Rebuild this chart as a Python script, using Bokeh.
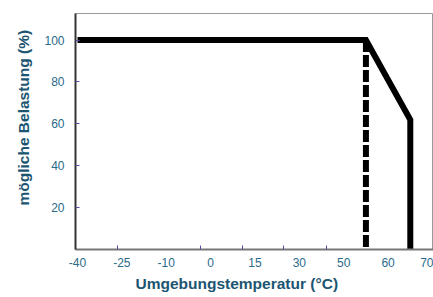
import numpy as np
from bokeh.plotting import figure
from bokeh.models import FixedTicker, Range1d, Title
from bokeh.embed import file_html
from bokeh.resources import INLINE

# tick labels along the temperature axis (evenly spaced in the picture)
x_tick_labels = [-40, -25, -10, 0, 15, 30, 50, 60, 70]
y_ticks = [20, 40, 60, 80, 100]

# derating curve (temperature °C, possible load %)
curve_temp = [-40, 55, 65, 65]
curve_load = [100, 100, 62, 0]

# dashed limit line
limit_temp = [55, 55]
limit_load = [100, 0]

tick_pos = list(range(len(x_tick_labels)))


def to_pos(t):
    return np.interp(t, x_tick_labels, tick_pos)


TICK_COLOR = "#2a6a8a"
TITLE_COLOR = "#1b5572"
MARK_COLOR = "#5a4aa8"

p = figure(width=433, height=297, output_backend="svg", toolbar_location=None,
           x_range=Range1d(-0.045, 8.023), y_range=Range1d(0, 112.7),
           min_border_left=75, min_border_right=0, min_border_top=13, min_border_bottom=48)

p.background_fill_color = "white"
p.border_fill_color = "white"
p.outline_line_color = "#9a9a9a"
p.outline_line_width = 1
p.xgrid.visible = False
p.ygrid.visible = False

p.line(to_pos(curve_temp), curve_load, line_color="black", line_width=6, line_join="miter")
p.line(to_pos(limit_temp), limit_load, line_color="black", line_width=6, line_dash="12 3")

xa = p.xaxis[0]
xa.ticker = FixedTicker(ticks=tick_pos, minor_ticks=[0.894, 2.77, 3.71, 4.65, 5.61])
xa.major_label_overrides = {i: str(v) for i, v in zip(tick_pos, x_tick_labels)}
xa.major_tick_line_color = None
xa.minor_tick_in = 4
xa.minor_tick_out = 0
xa.minor_tick_line_color = MARK_COLOR
xa.axis_line_color = "#777777"
xa.axis_line_width = 2
xa.major_label_standoff = 2
xa.major_label_text_font = "Liberation Sans"
xa.major_label_text_font_size = "12px"
xa.major_label_text_color = TICK_COLOR

ya = p.yaxis[0]
ya.ticker = FixedTicker(ticks=y_ticks, minor_ticks=[])
ya.major_tick_in = 4
ya.major_tick_out = 0
ya.major_tick_line_color = MARK_COLOR
ya.minor_tick_line_color = None
ya.axis_line_color = "#333333"
ya.axis_line_width = 2
ya.major_label_standoff = 11
ya.major_label_text_font = "Liberation Sans"
ya.major_label_text_font_size = "12px"
ya.major_label_text_color = TICK_COLOR

p.add_layout(Title(text="Umgebungstemperatur (°C)", align="left", offset=60, standoff=7,
                   vertical_align="bottom",
                   text_font="Liberation Sans", text_font_style="bold",
                   text_font_size="15.5px", text_color=TITLE_COLOR), "below")
p.add_layout(Title(text="mögliche Belastung (%)", align="left", offset=44, standoff=19,
                   text_font="Liberation Sans", text_font_style="bold",
                   text_font_size="15.5px", text_color=TITLE_COLOR), "left")

open("out.html", "w").write(file_html(p, INLINE))
